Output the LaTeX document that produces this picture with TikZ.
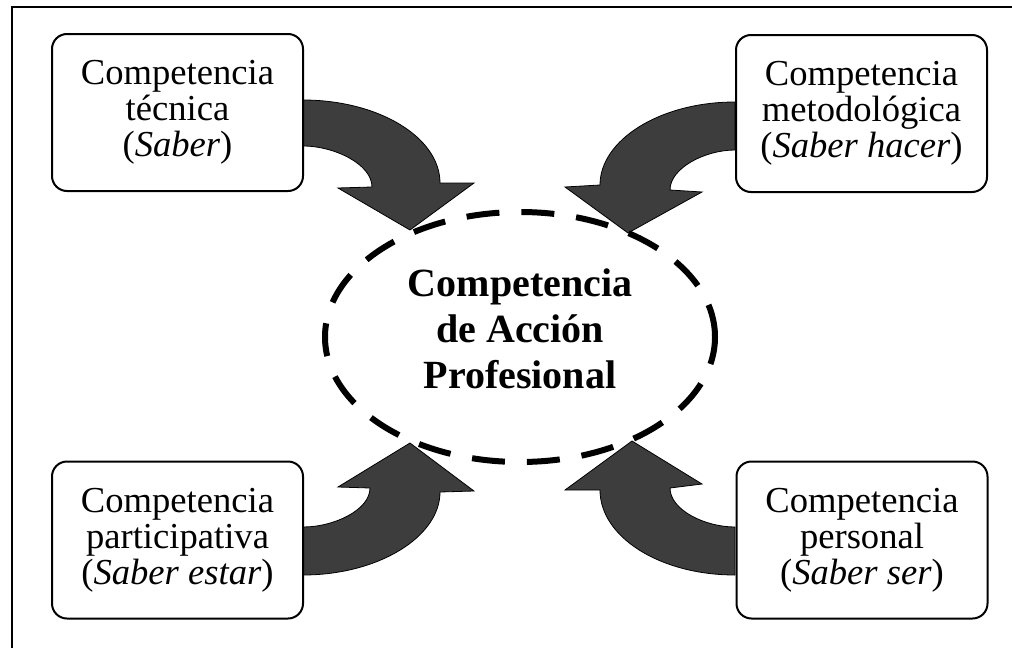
\documentclass[tikz,border=0pt]{standalone}
\usepackage{fontspec}
\setmainfont{Liberation Serif}
\usepackage{tikz}
\usetikzlibrary{shapes.geometric}

\tikzset{
  compbox/.style={draw, line width=1pt, rounded corners=7.5pt, fill=white,
    minimum width=125.5pt, minimum height=78.5pt, inner sep=0pt, align=center,
    font=\fontsize{18.3}{17.9}\selectfont},
  bigarrow/.style={fill=black!76, draw=black, line width=0.4pt},
  accion/.style={ellipse, draw, line width=3pt, dash pattern=on 16.5pt off 11pt,
    minimum width=195pt, minimum height=125pt, align=center, text depth=8pt,
    font=\fontsize{20}{23}\selectfont\bfseries}
}

\begin{document}
\begin{tikzpicture}[x=0.5pt,y=-0.5pt]
\useasboundingbox (0,0) rectangle (1012,648);
\draw [line width=0.6pt] (12,648) -- (12,7) -- (1012,7);

\draw [bigarrow] (303,100) .. controls (378,100) and (440,137) .. (440,183) -- (474,183) -- (410,230) -- (338,188) -- (372,187) .. controls (372,164) and (334,146) .. (303,146) -- cycle;
\draw [bigarrow] (735,102) .. controls (660,102) and (600,140) .. (600,185) -- (565,187) -- (628,233) -- (702,192) -- (670,190) .. controls (670,168) and (705,150) .. (735,150) -- cycle;
\draw [bigarrow] (303,575) .. controls (378,575) and (440,537) .. (440,492) -- (474,491) -- (410,443) -- (338,487) -- (370,488) .. controls (370,510) and (334,527) .. (303,527) -- cycle;
\draw [bigarrow] (735,575) .. controls (660,575) and (600,537) .. (600,490) -- (565,490) -- (632,441) -- (702,484) -- (670,488) .. controls (670,510) and (705,527) .. (735,527) -- cycle;

\node [accion] (centro) at (520,337) {Competencia\\de Acción\\Profesional};

\node [compbox] (tecnica) at (177.5,112.5) {Competencia\\técnica\\(\textit{Saber})};
\node [compbox] (metodo) at (861.5,113.5) {Competencia\\metodológica\\(\textit{Saber hacer})};
\node [compbox] (particip) at (177.5,540) {Competencia\\participativa\\(\textit{Saber estar})};
\node [compbox] (personal) at (862,540) {Competencia\\personal\\(\textit{Saber ser})};
\end{tikzpicture}
\end{document}
